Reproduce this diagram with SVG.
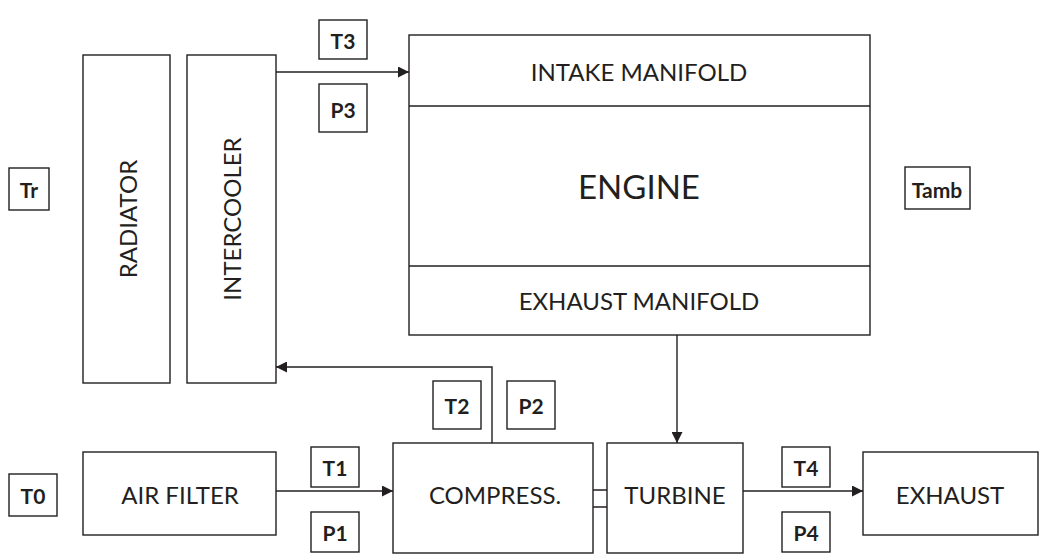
<svg xmlns="http://www.w3.org/2000/svg" width="1048" height="556" viewBox="0 0 1048 556">
<defs>
<marker id="ah" viewBox="0 0 10 10" refX="10" refY="5" markerWidth="11" markerHeight="11" markerUnits="userSpaceOnUse" orient="auto"><path d="M0,0 L10,5 L0,10 z" fill="#231f20"/></marker>
<style>
.b{fill:#fff;stroke:#231f20;stroke-width:1.4}
.t{font-family:Lato,"Open Sans",sans-serif;fill:#231f20;text-anchor:middle;dominant-baseline:central}
.m{font-size:24px}
.s{font-size:21px;font-weight:bold}
.c{fill:none;stroke:#231f20;stroke-width:1.4}
</style>
</defs>
<rect width="1048" height="556" fill="#fff"/>
<g id="connectors">
<path class="c" d="M276,72 H409" marker-end="url(#ah)"/>
<path class="c" d="M492,443 V367 H276" marker-end="url(#ah)"/>
<path class="c" d="M276,491 H393" marker-end="url(#ah)"/>
<path class="c" d="M677,335 V443" marker-end="url(#ah)"/>
<path class="c" d="M743,491 H863" marker-end="url(#ah)"/>
<path class="c" d="M593,490 H607 M593,507 H607"/>
</g>
<g id="radiator"><rect class="b" x="83" y="55" width="87" height="328"/><text class="t m" transform="translate(127,219) rotate(-90)">RADIATOR</text></g>
<g id="intercooler"><rect class="b" x="187" y="55" width="89" height="328"/><text class="t m" transform="translate(231,219) rotate(-90)">INTERCOOLER</text></g>
<g id="engine"><rect class="b" x="409" y="35" width="461" height="300"/>
<line class="c" x1="409" y1="106" x2="870" y2="106"/><line class="c" x1="409" y1="266" x2="870" y2="266"/>
<text class="t m" x="639" y="71">INTAKE MANIFOLD</text>
<text class="t" style="font-size:33px" x="639" y="186">ENGINE</text>
<text class="t m" x="639" y="300">EXHAUST MANIFOLD</text></g>
<g id="airfilter"><rect class="b" x="83" y="452" width="193" height="83"/><text class="t m" x="180" y="494">AIR FILTER</text></g>
<g id="compressor"><rect class="b" x="393" y="443" width="200" height="110"/><text class="t m" x="495" y="494">COMPRESS.</text></g>
<g id="turbine"><rect class="b" x="607" y="443" width="136" height="110"/><text class="t m" x="675" y="494">TURBINE</text></g>
<g id="exhaust"><rect class="b" x="863" y="452" width="175" height="83"/><text class="t m" x="950" y="494">EXHAUST</text></g>
<g id="T3"><rect class="b" x="319" y="20" width="48" height="39"/><text class="t s" x="343" y="40">T3</text></g>
<g id="P3"><rect class="b" x="319" y="84" width="48" height="48"/><text class="t s" x="343" y="109">P3</text></g>
<g id="Tr"><rect class="b" x="9" y="168" width="40" height="42"/><text class="t s" x="29" y="189">Tr</text></g>
<g id="Tamb"><rect class="b" x="905" y="167" width="65" height="42"/><text class="t s" x="937" y="189">Tamb</text></g>
<g id="T0"><rect class="b" x="9" y="474" width="48" height="42"/><text class="t s" x="33" y="495">T0</text></g>
<g id="T1"><rect class="b" x="311" y="447" width="48" height="40"/><text class="t s" x="335" y="467">T1</text></g>
<g id="P1"><rect class="b" x="311" y="512" width="48" height="40"/><text class="t s" x="335" y="532">P1</text></g>
<g id="T2"><rect class="b" x="433" y="381" width="48" height="48"/><text class="t s" x="457" y="405">T2</text></g>
<g id="P2"><rect class="b" x="507" y="381" width="48" height="48"/><text class="t s" x="531" y="405">P2</text></g>
<g id="T4"><rect class="b" x="782" y="447" width="48" height="40"/><text class="t s" x="806" y="467">T4</text></g>
<g id="P4"><rect class="b" x="782" y="512" width="48" height="40"/><text class="t s" x="806" y="532">P4</text></g>
</svg>
